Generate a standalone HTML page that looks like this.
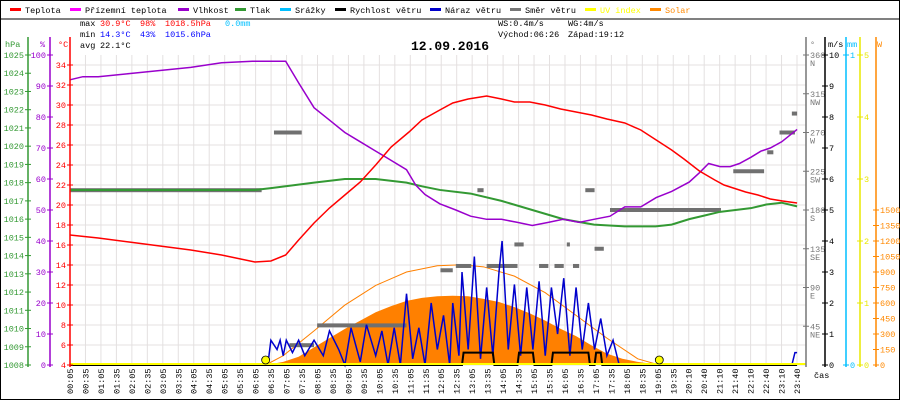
<!DOCTYPE html>
<html><head><meta charset="utf-8"><style>
body{margin:0;background:#fff}
svg{display:block;font-family:"Liberation Mono",monospace;font-size:8.5px}
</style></head><body>
<svg id="c" width="900" height="400" viewBox="0 0 900 400">
<rect x="0.5" y="0.5" width="899" height="399" fill="#fff" stroke="#000"/>
<g id="legend"></g>
<g>
<text x="80" y="26">max</text><text x="100" y="26" fill="#f00">30.9°C</text><text x="140" y="26" fill="#f00">98%</text><text x="165" y="26" fill="#f00">1018.5hPa</text><text x="225" y="26" fill="#00bfff">0.0mm</text>
<text x="80" y="37">min</text><text x="100" y="37" fill="#00f">14.3°C</text><text x="140" y="37" fill="#00f">43%</text><text x="165" y="37" fill="#00f">1015.6hPa</text>
<text x="80" y="48">avg</text><text x="100" y="48">22.1°C</text>
<text x="498" y="26">WS:0.4m/s</text><text x="568" y="26">WG:4m/s</text>
<text x="498" y="37">Východ:06:26</text><text x="568" y="37">Západ:19:12</text>
</g>
<text x="450" y="50" text-anchor="middle" font-size="13" font-weight="bold">12.09.2016</text>
<g id="grid"></g>
<g id="series"></g>
<g id="axes"></g>
</svg>
<script>
const tempT=[0.08,1,2,3,4,5,6.08,6.6,7.08,7.5,8,8.5,9,9.5,10,10.5,11.08,11.5,12.08,12.5,13,13.6,14.08,14.5,15,15.5,16,16.5,17,17.5,18.08,18.6,19.1,19.6,20,20.5,21,21.3,21.7,22,22.4,22.8,23.2,23.67];
const tempV=[17.0,16.7,16.3,15.9,15.5,15.0,14.3,14.4,15.0,16.5,18.2,19.7,21.0,22.3,24.0,25.8,27.3,28.5,29.5,30.2,30.6,30.9,30.6,30.3,30.3,30.0,29.6,29.3,29.0,28.6,28.2,27.5,26.5,25.5,24.6,23.4,22.5,22.0,21.6,21.3,21.0,20.6,20.4,20.2];
const humT=[0.08,0.5,1,2,3,4,5,6,7.08,7.5,8,8.5,9,9.5,10,10.5,11,11.3,11.6,12.08,12.6,13.08,13.6,14.08,14.6,15.08,15.6,16.08,16.6,17.08,17.6,18.08,18.6,19.1,19.6,20.17,20.5,20.8,21.17,21.5,21.8,22.17,22.5,22.8,23.17,23.67];
const humV=[92,93,93,94,95,96,97.5,98,98,91,83,79,75,72,69,66,63,58,55,52,50,48,47,47,46,45,46,47,46,47,48,51,51,54,56,59,62,65,64,64,65,67,69,70,72,76];
const presT=[0.08,3,6.08,6.6,7.08,8,9,10,11,11.5,12.08,13.08,14.08,15.08,16.08,17.08,18.08,19.08,19.6,20.17,20.67,21.17,22.17,22.67,23.17,23.67];
const presV=[1017.6,1017.6,1017.6,1017.7,1017.8,1018.0,1018.2,1018.2,1018.0,1017.8,1017.6,1017.4,1017.0,1016.5,1016.0,1015.7,1015.6,1015.6,1015.7,1016.0,1016.2,1016.4,1016.6,1016.8,1016.9,1016.7];
const solT=[6.43,7,7.5,8,8.5,9,9.5,10,10.5,11,11.5,12,12.5,13,13.5,14,14.5,15,15.5,16,16.5,17,17.5,18,18.5,19,19.2];
const solV=[0,30,80,170,260,350,430,510,570,620,650,665,670,665,640,610,560,500,430,350,280,190,110,60,30,10,0];
const theoT=[6.43,7,8,9,10,11,12,12.8,13.5,14.5,15.5,16.5,17.5,18.5,19.2];
const theoV=[0,90,330,580,770,900,960,970,950,860,700,480,260,60,0];
const gustT=[0.08,6.5,6.6,6.8,6.9,7.0,7.1,7.3,7.5,7.7,8.0,8.3,8.5,8.8,9.0,9.2,9.5,9.7,10.0,10.2,10.4,10.6,10.8,11.0,11.2,11.4,11.6,11.8,12.0,12.2,12.4,12.5,12.7,12.8,13.0,13.2,13.4,13.6,13.8,14.0,14.1,14.3,14.5,14.7,14.9,15.1,15.3,15.5,15.7,15.9,16.1,16.3,16.5,16.7,16.9,17.1,17.3,17.5,17.7,17.9,23.5,23.6,23.67];
const gustV=[0,0,0.8,0.5,0.8,0.3,0.8,0.4,0.8,0.3,0.8,0.3,1.1,0.5,0,1.2,0.1,1.3,0.3,1.1,0,1.2,0,2.3,0.2,1.2,0,2.0,0.5,1.6,0,2.0,0.3,3.0,0.5,3.5,0.2,2.5,0.3,3.0,4.0,0.5,2.6,0.3,2.5,0.5,2.7,0.3,2.5,1.0,2.8,0.3,2.5,0.5,2.0,0.5,1.5,0.3,0.8,0,0,0.4,0.4];
const windT=[0.08,12.8,12.85,13.8,13.85,14.6,14.65,15.1,15.15,15.7,15.75,16.9,16.95,17.1,17.15,17.3,17.35,23.67];
const windV=[0,0,0.4,0.4,0,0,0.4,0.4,0,0,0.4,0.4,0,0,0.4,0.4,0,0];
const dirStart=[0.08,6.7,7.2,8.1,12.1,12.6,13.3,13.6,14.5,15.3,15.8,16.2,16.4,16.8,17.1,17.6,21.6,22.7,23.1,23.5];
const dirEnd=[6.3,7.6,8.0,11.0,12.5,13.1,13.5,14.6,14.8,15.6,16.1,16.3,16.6,17.1,17.4,21.2,22.6,22.9,23.6,23.67];
const dirDeg=[203,270,23,46,110,115,203,115,140,115,115,140,115,203,135,180,225,247,270,292];
const xLabels=["00:05","00:35","01:05","01:35","02:05","02:35","03:05","03:35","04:05","04:35","05:05","05:35","06:05","06:35","07:05","07:35","08:05","08:35","09:05","09:35","10:05","10:35","11:05","11:35","12:05","12:35","13:05","13:35","14:05","14:35","15:05","15:35","16:05","16:35","17:05","17:35","18:05","18:35","19:05","19:35","20:10","20:40","21:10","21:40","22:10","22:40","23:10","23:40"];
const hpaTicks=[1008,1009,1010,1011,1012,1013,1014,1015,1016,1017,1018,1019,1020,1021,1022,1023,1024,1025];
const humTicks=[0,10,20,30,40,50,60,70,80,90,100];
const tempTicks=[4,6,8,10,12,14,16,18,20,22,24,26,28,30,32,34];
const msTicks=[0,1,2,3,4,5,6,7,8,9,10];
const dirTicks=[45,90,135,180,225,270,315,360];
const dirNames=["NE","E","SE","S","SW","W","NW","N"];
const uvTicks=[0,1,2,3,4,5];
const wTicks=[0,150,300,450,600,750,900,1050,1200,1350,1500];

const L=70,R=806,T=55,B=365,H=B-T;
const X=h=>L+(h-0.0833)/(23.667-0.0833)*(797-L);
const yT=v=>B-(v-4)*10, yH=v=>B-v*3.1, yP=v=>B-(v-1008)*H/17, yM=v=>B-v*31, yD=v=>B-v*H/360, yW=v=>B-v*155/1500, yU=v=>B-v*62;
const NS="http://www.w3.org/2000/svg";
function mk(tag,attrs,parent,txt){const e=document.createElementNS(NS,tag);for(const k in attrs)e.setAttribute(k,attrs[k]);if(txt!==undefined)e.textContent=txt;parent.appendChild(e);return e;}
const G=document.getElementById('grid'),S=document.getElementById('series'),A=document.getElementById('axes'),LG=document.getElementById('legend');

const legItems=[["Teplota","#f00",10],["Přízemní teplota","#f0f",70],["Vlhkost","#90c",178],["Tlak","#393",235],["Srážky","#00bfff",280],["Rychlost větru","#000",335],["Náraz větru","#00c",430],["Směr větru","#777",510],["UV index","#ff0",585],["Solar","#f80",650]];
legItems.forEach(d=>{
 const g=mk('g',{},LG);
 
 
 mk('rect',{x:d[2],y:8,width:11,height:3,fill:d[1]},g);
 mk('text',{x:d[2]+15,y:13,fill:(d[0]=="UV index"||d[0]=="Solar")?d[1]:"#000"},g,d[0]);
});
mk('line',{x1:0,y1:19,x2:900,y2:19,stroke:"#000"},LG);

xLabels.forEach((lab,i)=>{
 const x=70+i*(797-70)/47;
 const l=mk('line',{x1:x,y1:T,x2:x,y2:B,stroke:"#e4e0e0"},G);
 
 
 const t=mk('text',{x:0,y:0,transform:`translate(${x+3},${394}) rotate(-90)`,"font-size":"8.5"},A,lab);
 
 
});
tempTicks.forEach(v=>{
 const l=mk('line',{x1:L,y1:yT(v),x2:R,y2:yT(v),stroke:"#e4e0e0"},G);
 
 
});

function poly(ts,vs,fy,color,w,name,step){
 let pts=[];ts.forEach((t,i)=>{if(step&&i>0)pts.push(X(t)+","+fy(vs[i-1]));pts.push(X(t)+","+fy(vs[i]));});
 const p=mk('polyline',{points:pts.join(" "),fill:"none",stroke:color,"stroke-width":w},S);
 
 
 return p;
}
{let pts=solT.map((t,i)=>X(t)+","+yW(solV[i]));pts.push(X(solT[solT.length-1])+","+B,X(solT[0])+","+B);
 const p=mk('polygon',{points:pts.join(" "),fill:"#ff8000"},S);
 
 }
poly(theoT,theoV,yW,"#ff8000",1,"theoretical-solar-line");
dirStart.forEach((s,i)=>{
 const r=mk('rect',{x:X(s),y:yD(dirDeg[i])-2,width:Math.max(3,X(dirEnd[i])-X(s)),height:4,fill:"#707070"},S);
 
 
});
poly(presT,presV,yP,"#393",2,"pressure-line");
poly(humT,humV,yH,"#90c",1.5,"humidity-line");
poly(tempT,tempV,yT,"#f00",1.5,"temperature-line");
poly(gustT,gustV,yM,"#00c",1.5,"wind-gust-line");
poly(windT,windV,yM,"#000",2,"wind-speed-line");
{const l=mk('line',{x1:L,y1:B-1,x2:R,y2:B-1,stroke:"#ff0","stroke-width":2},S);
 
 }
[[6.43],[19.2]].forEach((d,i)=>{
 const c=mk('circle',{cx:X(d[0]),cy:B-5,r:4,fill:"#ff0",stroke:"#000","stroke-width":0.8},S);
 
 
});

function axis(x,color,ticks,fy,labelFn,name,title,tx,side){
 const g=mk('g',{},A);
 
 
 mk('line',{x1:x,y1:T-18,x2:x,y2:B+2,stroke:color,"stroke-width":1.5},g);
 mk('text',{x:tx,y:47,fill:color},g,title);
 ticks.forEach((v,i)=>{
  const y=fy(v);
  mk('line',{x1:x-3,y1:y,x2:x+3,y2:y,stroke:color},g);
  mk('text',{x:side<0?x-4:x+4,y:y+3,fill:color,"text-anchor":side<0?"end":"start"},g,labelFn(v,i));
 });
}
axis(28,"#393",hpaTicks,yP,v=>v,"hpa-axis","hPa",5,-1);
axis(50,"#90c",humTicks,yH,v=>v,"humidity-axis","%",40,-1);
axis(70,"#f00",tempTicks,yT,v=>v,"temperature-axis","°C",58,-1);
axis(806,"#777",dirTicks,yD,v=>v,"wind-direction-axis","°",810,1);
dirTicks.forEach((v,i)=>{mk('text',{x:810,y:yD(v)+11,fill:"#777"},A,dirNames[i]);});
axis(825,"#000",msTicks,yM,v=>v,"wind-speed-axis","m/s",828,1);
axis(846,"#00bfff",[0,1],v=>B-v*H,v=>v,"rain-axis","mm",847,1);
axis(860,"#e8e800",uvTicks,yU,v=>v,"uv-axis","",860,1);
axis(876,"#f80",wTicks,yW,v=>v,"solar-axis","W",877,1);
mk('text',{x:814,y:378},A,"čas");
</script>
</body></html>
